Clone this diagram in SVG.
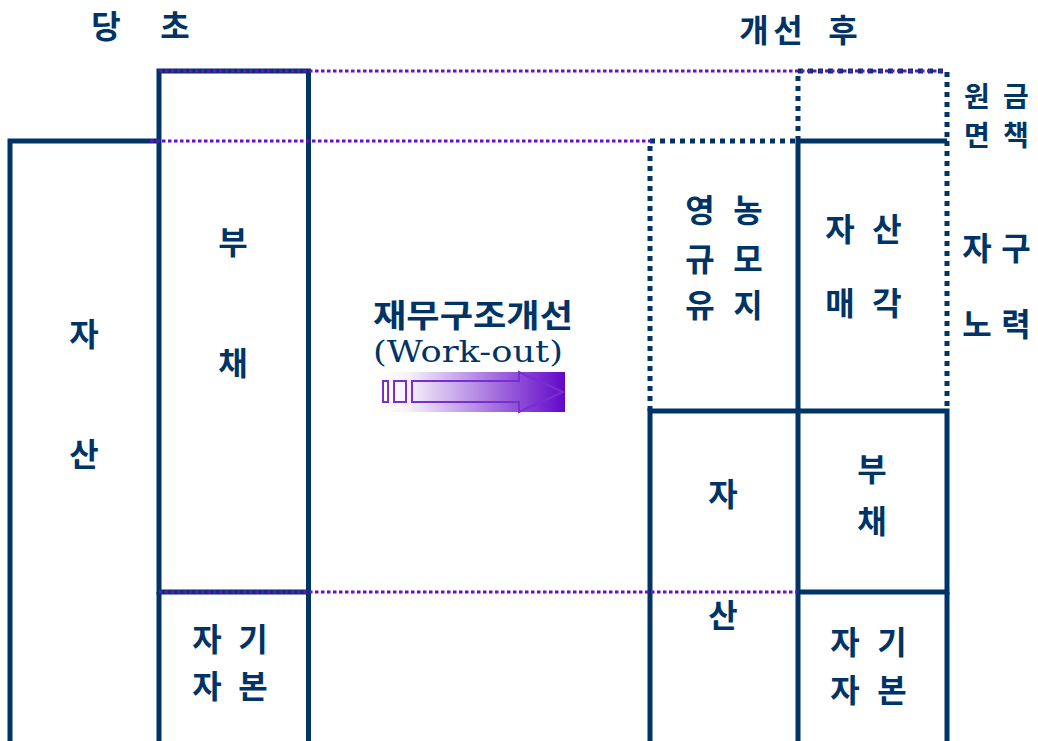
<svg xmlns="http://www.w3.org/2000/svg" width="1038" height="741" viewBox="0 0 1038 741">
<defs>
<linearGradient id="grad" x1="0" y1="0" x2="1" y2="0">
<stop offset="0" stop-color="#ffffff"/>
<stop offset="0.15" stop-color="#f6f2fb"/>
<stop offset="1" stop-color="#6208c8"/>
</linearGradient>
<style>
.solid{fill:none;stroke:#003466;stroke-width:5}
.ndot{fill:none;stroke:#003466;stroke-width:5;stroke-dasharray:5 5}
.pdot{fill:none;stroke:#6a0dcc;stroke-width:3;stroke-dasharray:3.5 2.5}
.t{font-family:"Noto Sans CJK KR","Noto Sans",sans-serif;font-size:32px;font-weight:700;fill:#003466;text-anchor:middle;dominant-baseline:central}
.s{font-size:28px}
.lat{font-family:"DejaVu Serif","Liberation Serif",serif;font-size:29px;fill:#003466;text-anchor:middle;dominant-baseline:central}
.arw{fill:none;stroke:#7a2ed2;stroke-width:2}
</style>
</defs>
<rect width="1038" height="741" fill="#ffffff"/>

<g id="title-before">
<text class="t" x="106" y="24">당</text>
<text class="t" x="175" y="24">초</text>
</g>
<g id="title-after">
<text class="t" x="754" y="28">개</text>
<text class="t" x="788" y="28">선</text>
<text class="t" x="843" y="28">후</text>
</g>

<g id="before-asset">
<path class="solid" d="M10,745 V141 H159"/>
<text class="t" x="84" y="332">자</text>
<text class="t" x="84" y="452">산</text>
</g>
<g id="before-liability">
<rect class="solid" x="159" y="71" width="149.5" height="521"/>
<text class="t" x="233" y="240">부</text>
<text class="t" x="233" y="361">채</text>
</g>
<g id="before-equity">
<path class="solid" d="M159,592 V745 M308.5,592 V745"/>
<text class="t" x="207" y="637">자</text>
<text class="t" x="253" y="637">기</text>
<text class="t" x="207" y="684">자</text>
<text class="t" x="253" y="684">본</text>
</g>

<g id="workout">
<text class="t" x="473" y="313" textLength="200" lengthAdjust="spacingAndGlyphs">재무구조개선</text>
<text class="lat" x="468" y="352" textLength="190" lengthAdjust="spacingAndGlyphs">(Work-out)</text>
<rect x="380" y="372" width="185" height="40" fill="url(#grad)"/>
<rect class="arw" x="383" y="381" width="5" height="21"/>
<rect class="arw" x="394" y="381" width="12" height="21"/>
<path class="arw" d="M412,381 H519 V372 L563,392 L519,412 V402 H412 Z"/>
</g>

<g id="after-farm">
<path class="ndot" d="M650,411 V141 H798"/>
<text class="t" x="700" y="208">영</text>
<text class="t" x="748" y="208">농</text>
<text class="t" x="700" y="257">규</text>
<text class="t" x="748" y="257">모</text>
<text class="t" x="700" y="303">유</text>
<text class="t" x="748" y="303">지</text>
</g>
<g id="after-debt-relief">
<path class="ndot" d="M798,141 V71 H947 V141"/>
<text class="t s" x="977" y="95">원</text>
<text class="t s" x="1016" y="95">금</text>
<text class="t s" x="977" y="134">면</text>
<text class="t s" x="1016" y="134">책</text>
</g>
<g id="after-asset-sale">
<path class="solid" d="M798,141 H947"/>
<path class="solid" d="M798,141 V411"/>
<path class="ndot" d="M947,141 V411"/>
<text class="t" x="840" y="227">자</text>
<text class="t" x="887" y="227">산</text>
<text class="t" x="840" y="301">매</text>
<text class="t" x="887" y="301">각</text>
</g>
<g id="self-rescue">
<text class="t" x="977" y="246">자</text>
<text class="t" x="1016" y="246">구</text>
<text class="t" x="977" y="322">노</text>
<text class="t" x="1016" y="322">력</text>
</g>
<g id="after-asset">
<path class="solid" d="M650,745 V411 H798 V745"/>
<text class="t" x="723" y="492">자</text>
<text class="t" x="723" y="613">산</text>
</g>
<g id="after-liability">
<path class="solid" d="M798,411 H947 V592 H798"/>
<text class="t" x="872" y="467">부</text>
<text class="t" x="872" y="519">채</text>
</g>
<g id="after-equity">
<path class="solid" d="M947,592 V745"/>
<text class="t" x="845" y="640">자</text>
<text class="t" x="892" y="640">기</text>
<text class="t" x="845" y="688">자</text>
<text class="t" x="892" y="688">본</text>
</g>

<g id="connectors">
<path class="pdot" d="M159,71 H945"/>
<path class="pdot" d="M150,141 H652"/>
<path class="pdot" d="M159,592 H798"/>
</g>
</svg>
